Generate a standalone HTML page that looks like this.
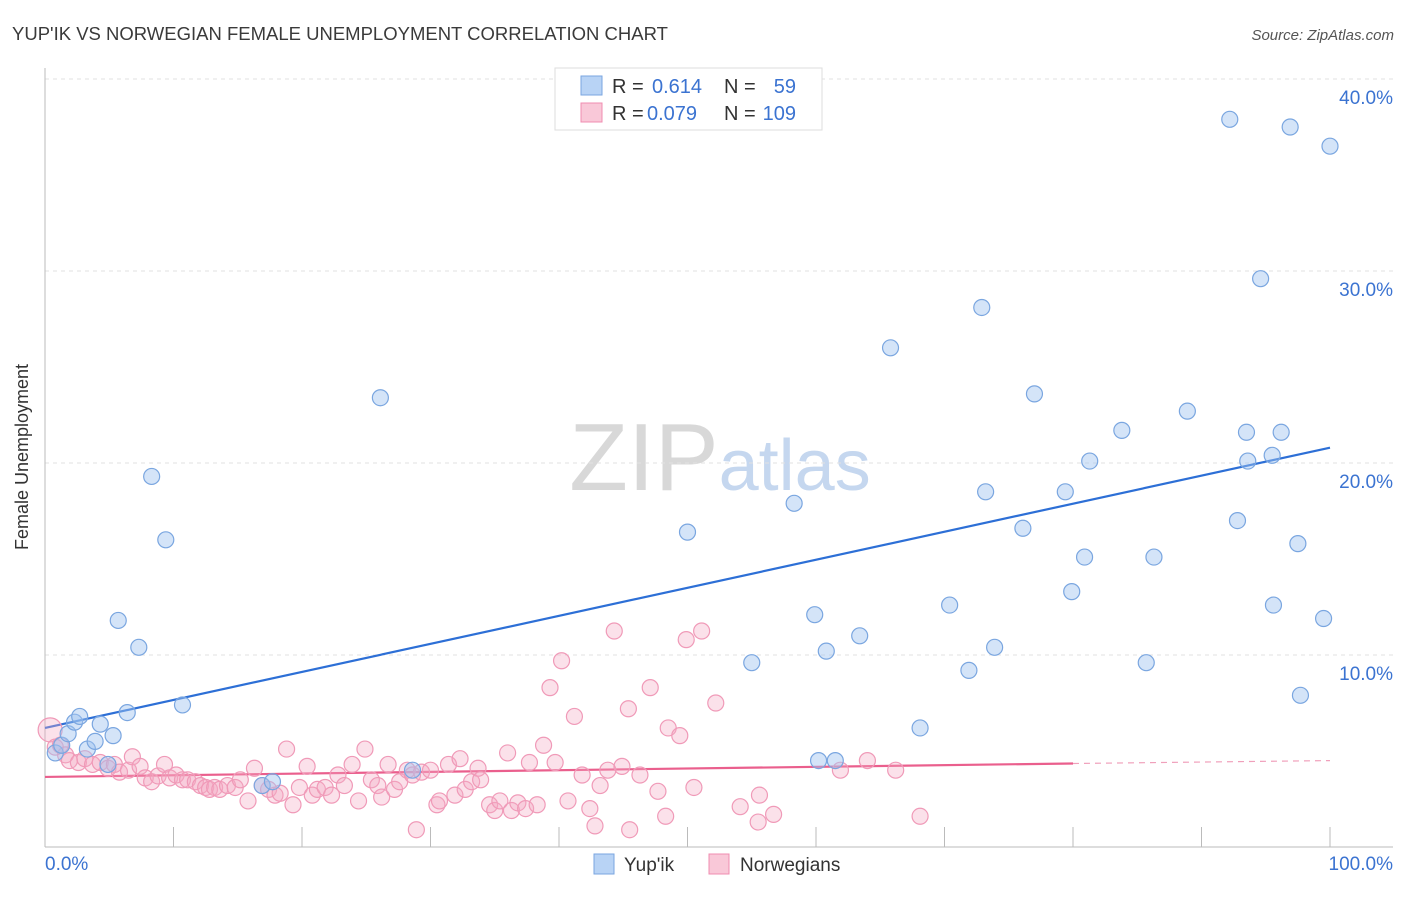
<!DOCTYPE html>
<html><head><meta charset="utf-8"><style>
body{margin:0;background:#fff;font-family:"Liberation Sans",sans-serif;}
svg text{font-family:"Liberation Sans",sans-serif;}
</style></head><body>
<svg id="chart" width="1406" height="892" xmlns="http://www.w3.org/2000/svg">
<text x="12" y="40" font-size="18.5" fill="#3a3a3a">YUP'IK VS NORWEGIAN FEMALE UNEMPLOYMENT CORRELATION CHART</text>
<text x="1394" y="40" font-size="15" fill="#555" text-anchor="end" font-style="italic">Source: ZipAtlas.com</text>
<text x="720" y="490" font-size="96" text-anchor="middle" fill="#d8d8d8" font-family="Liberation Serif"><tspan>ZIP</tspan><tspan fill="#c5d7ef" font-family="Liberation Sans" font-size="72">atlas</tspan></text>
<text transform="translate(28,457) rotate(-90)" font-size="18" fill="#333" text-anchor="middle">Female Unemployment</text>
<g id="grid"></g><g id="axes"></g><g id="lines"></g><g id="pts"></g>
<g>
<rect x="555" y="68" width="267" height="62" fill="#fff" stroke="#ddd"/>
<rect x="581" y="76" width="21" height="19" fill="#b8d3f5" stroke="#7aa6e0"/>
<text x="612" y="93" font-size="20" fill="#333">R =</text>
<text x="652" y="93" font-size="20" fill="#3b73d1">0.614</text>
<text x="724" y="93" font-size="20" fill="#333">N =</text>
<text x="796" y="93" font-size="20" fill="#3b73d1" text-anchor="end">59</text>
<rect x="581" y="103" width="21" height="19" fill="#f9c8d8" stroke="#f08cb0"/>
<text x="612" y="120" font-size="20" fill="#333">R =</text>
<text x="647" y="120" font-size="20" fill="#3b73d1">0.079</text>
<text x="724" y="120" font-size="20" fill="#333">N =</text>
<text x="796" y="120" font-size="20" fill="#3b73d1" text-anchor="end">109</text>
</g>
<g>
<rect x="594" y="854" width="20" height="20" fill="#b8d3f5" stroke="#7aa6e0"/>
<text x="624" y="871" font-size="19" fill="#333">Yup'ik</text>
<rect x="709" y="854" width="20" height="20" fill="#f9c8d8" stroke="#f08cb0"/>
<text x="740" y="871" font-size="19" fill="#333">Norwegians</text>
</g>
</svg>
<script>
const yTicks=[10,20,30,40];
const yTickLabels=["10.0%","20.0%","30.0%","40.0%"];
const xTicks=[0,10,20,30,40,50,60,70,80,90,100];
const blueX=[0.8,1.3,1.8,2.3,2.7,3.3,3.9,4.3,4.9,5.3,5.7,6.4,7.3,8.3,9.4,10.7,16.9,17.7,26.1,28.6,50.0,55.0,58.3,59.9,60.2,60.8,61.5,63.4,65.8,68.1,70.4,71.9,72.9,73.2,73.9,76.1,77.0,79.4,79.9,80.9,81.3,83.8,85.7,86.3,88.9,92.2,92.8,93.5,93.6,94.6,95.5,95.6,96.2,96.9,97.5,97.7,99.5,100];
const blueY=[4.9,5.3,5.9,6.5,6.8,5.1,5.5,6.4,4.3,5.8,11.8,7.0,10.4,19.3,16.0,7.4,3.2,3.4,23.4,4.0,16.4,9.6,17.9,12.1,4.5,10.2,4.5,11.0,26.0,6.2,12.6,9.2,28.1,18.5,10.4,16.6,23.6,18.5,13.3,15.1,20.1,21.7,9.6,15.1,22.7,37.9,17.0,21.6,20.1,29.6,20.4,12.6,21.6,37.5,15.8,7.9,11.9,36.5];
const pinkX=[0.4,0.8,1.2,1.6,1.9,2.6,3.1,3.7,4.3,4.9,5.4,5.8,6.5,6.8,7.4,7.8,8.3,8.8,9.3,9.7,10.2,10.7,11.1,11.7,12.1,12.5,12.8,13.2,13.6,14.2,14.8,15.2,15.8,16.3,16.9,17.4,17.9,18.3,18.8,19.3,19.8,20.4,20.8,21.2,21.8,22.3,22.8,23.3,23.9,24.4,24.9,25.4,25.9,26.2,26.7,27.2,27.6,28.2,28.6,28.9,29.3,30.0,30.5,30.7,31.4,31.9,32.3,32.7,33.2,33.7,33.9,34.6,35.0,35.4,36.0,36.3,36.8,37.4,37.7,38.3,38.8,39.3,39.7,40.2,40.7,41.2,41.8,42.4,42.8,43.2,43.8,44.3,44.9,45.4,45.5,46.3,47.1,47.7,48.5,48.3,49.4,49.9,50.5,51.1,52.2,54.1,55.5,55.6,56.7,61.9,64.0,66.2,68.1];
const pinkY=[6.1,5.2,5.3,4.8,4.5,4.4,4.6,4.3,4.4,4.1,4.3,3.9,4.0,4.7,4.2,3.6,3.4,3.7,4.3,3.6,3.75,3.5,3.5,3.4,3.2,3.1,3.0,3.1,3.0,3.2,3.1,3.5,2.4,4.1,3.2,3.0,2.7,2.8,5.1,2.2,3.1,4.2,2.7,3.0,3.1,2.7,3.75,3.2,4.3,2.4,5.1,3.5,3.2,2.6,4.3,3.0,3.4,4.0,3.75,0.9,3.9,4.0,2.2,2.4,4.3,2.7,4.6,3.0,3.4,4.1,3.5,2.2,1.9,2.4,4.9,1.9,2.3,2.0,4.4,2.2,5.3,8.3,4.4,9.7,2.4,6.8,3.75,2.0,1.1,3.2,4.0,11.25,4.2,7.2,0.9,3.75,8.3,2.9,6.2,1.6,5.8,10.8,3.1,11.25,7.5,2.1,1.3,2.7,1.7,4.0,4.5,4.0,1.6];
const blueTrend=[6.2,20.8];
const pinkTrend=[3.65,4.35,4.5];
const pinkTrendEndX=80;
const X=v=>45+v*12.85, Y=v=>847-v*19.2;
const NS="http://www.w3.org/2000/svg";
function mk(parent,tag,attrs){const e=document.createElementNS(NS,tag);for(const k in attrs)e.setAttribute(k,attrs[k]);document.getElementById(parent).appendChild(e);return e;}
yTicks.forEach((t,i)=>{
 const g=mk('grid','line',{x1:45,x2:1393,y1:Y(t),y2:Y(t),stroke:'#e2e2e2','stroke-dasharray':'4,4'});
 
 
 const l=mk('grid','text',{x:1393,y:Y(t)+25,'font-size':19,fill:'#3b73d1','text-anchor':'end'});
 l.textContent=yTickLabels[i];
 
 
});
const tg=mk('grid','line',{x1:45,x2:1393,y1:79,y2:79,stroke:'#e2e2e2','stroke-dasharray':'4,4'});


const ya=mk('axes','line',{x1:45,x2:45,y1:68,y2:847,stroke:'#bbb'});


const xa=mk('axes','line',{x1:45,x2:1393,y1:847,y2:847,stroke:'#bbb'});


xTicks.forEach(t=>{const e=mk('axes','line',{x1:X(t),x2:X(t),y1:827,y2:847,stroke:'#bbb'});
 
 });
const x0=mk('axes','text',{x:45,y:870,'font-size':19,fill:'#3b73d1'});x0.textContent='0.0%';


const x1=mk('axes','text',{x:1393,y:870,'font-size':19,fill:'#3b73d1','text-anchor':'end'});x1.textContent='100.0%';


pinkX.forEach((x,i)=>{const c=mk('pts','circle',{cx:X(x),cy:Y(pinkY[i]),r:i===0?12:8,fill:'rgba(244,170,195,0.35)',stroke:'#f09ab8','stroke-width':1.2});
 
 });
blueX.forEach((x,i)=>{const c=mk('pts','circle',{cx:X(x),cy:Y(blueY[i]),r:8,fill:'rgba(160,196,240,0.45)',stroke:'#7aa6e0','stroke-width':1.2});
 
 });
const bl=mk('lines','line',{x1:X(0),y1:Y(blueTrend[0]),x2:X(100),y2:Y(blueTrend[1]),stroke:'#2d6fd6','stroke-width':2.2});


const pl=mk('lines','line',{x1:X(0),y1:Y(pinkTrend[0]),x2:X(pinkTrendEndX),y2:Y(pinkTrend[1]),stroke:'#ea5f8d','stroke-width':2.2});


const pd=mk('lines','line',{x1:X(pinkTrendEndX),y1:Y(pinkTrend[1]),x2:X(100),y2:Y(pinkTrend[2]),stroke:'#f0a0bb','stroke-width':1.2,'stroke-dasharray':'6,5'});


</script>
</body></html>
